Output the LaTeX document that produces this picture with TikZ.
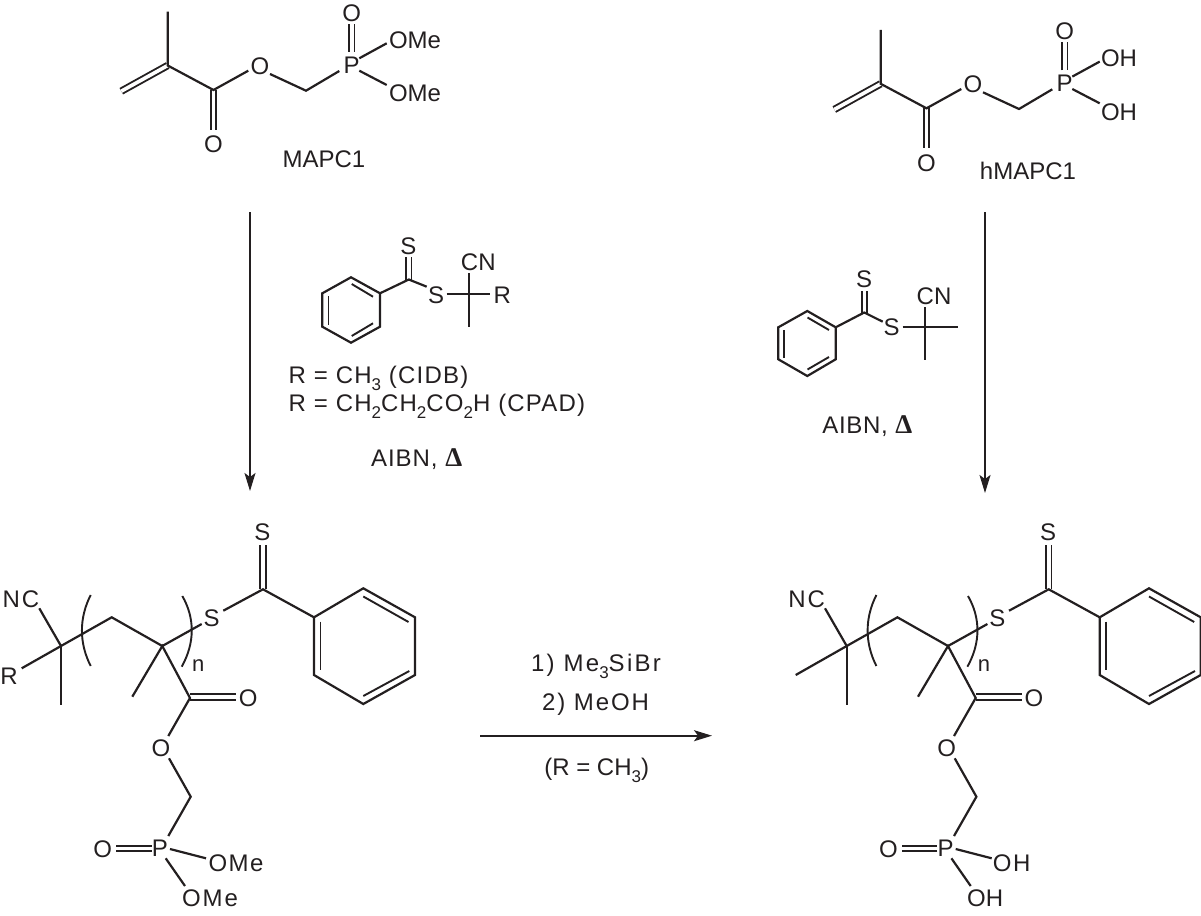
\documentclass[tikz,border=0pt]{standalone}
\usepackage{fontspec}
\setmainfont{Liberation Sans}
\newfontfamily\deltafont{Liberation Serif}[BoldFont={Liberation Serif Bold}]
\usetikzlibrary{arrows.meta}
\definecolor{ink}{HTML}{231F20}
\newcommand{\lsub}[1]{\raisebox{-.3em}{\fontsize{17}{17}\selectfont #1}}
\newcommand{\dlt}{{\deltafont\bfseries\fontsize{27}{28}\selectfont\symbol{"0394}}}
\newcommand{\track}[1]{\addfontfeature{LetterSpace=#1}}
\tikzset{
  atom/.style={inner sep=0pt,text=ink,text height=17pt,text depth=0pt,font=\fontsize{24}{28}\selectfont},
  txt/.style={atom,font=\fontsize{24}{28}\selectfont},
  bond/.style={draw=ink,line width=2.2pt,line cap=butt,line join=miter},
  dbond/.style={draw=ink,line width=1.9pt,double=white,double distance=3.6pt,line cap=butt},
  inner/.style={draw=ink,line width=1.9pt},
  rxn/.style={draw=ink,line width=1.6pt,-{Stealth[length=18pt,width=11pt,inset=4pt]}},
}
% monomer: #1 = label of the two P groups, #2 = x of these labels
\newcommand{\monomer}[2]{
  \coordinate (me) at (167.7,11.7);
  \coordinate (ca) at (167.7,65.5);
  \coordinate (vi) at (121.3,91.2);
  \coordinate (co) at (213.5,90);
  \coordinate (oe) at (248.3,70.7);
  \coordinate (oe2) at (270,74);
  \coordinate (ch) at (306,90.7);
  \coordinate (pl) at (339.3,71);
  \coordinate (pu) at (351.7,52);
  \coordinate (pa) at (359.3,58.3);
  \coordinate (pb) at (359.3,70.7);
  \coordinate (ea) at (386.7,43.3);
  \coordinate (eb) at (386.7,85);
  \coordinate (ou) at (351.7,24);
  \coordinate (od) at (213.5,130);
  \node[atom] (O1) at (260,65.7) {O};
  \node[atom] (P1) at (351.7,65) {P};
  \node[atom] (O2) at (351.7,13) {O};
  \node[atom] (O3) at (213.5,144.3) {O};
  \node[atom] (G1) at (#2,40) {#1};
  \node[atom] (G2) at (#2,93.3) {#1};
  \draw[dbond] (ca) -- (vi);
  \draw[dbond] (co) -- (od);
  \draw[dbond] (pu) -- (ou);
  \draw[bond] (me) -- (ca) -- (co) -- (oe);
  \draw[bond] (oe2) -- (ch) -- (pl);
  \draw[bond] (pa) -- (ea);
  \draw[bond] (pb) -- (eb);
}
% polymer: #1 = R slot, #2/#3 = upper and lower P group nodes
\newcommand{\polymer}[3]{
  \coordinate (sd) at (263,545);
  \coordinate (c) at (263,589.3);
  \coordinate (sb) at (223.3,610.7);
  \coordinate (sc) at (201.7,624);
  \coordinate (q) at (162.3,646);
  \coordinate (m) at (111.7,617.3);
  \coordinate (t) at (61,646);
  \coordinate (tn) at (39.3,608.3);
  \coordinate (tm) at (61,705);
  \coordinate (qm) at (132.3,696.7);
  \coordinate (cc) at (190,698);
  \coordinate (co) at (236,697);
  \coordinate (cc2) at (190,697);
  \coordinate (oa) at (168.3,736);
  \coordinate (ob) at (169,758.3);
  \coordinate (ch) at (190.7,796.7);
  \coordinate (pu) at (168.3,836);
  \coordinate (pd) at (151.7,848.3);
  \coordinate (od) at (116,848.3);
  \coordinate (pa) at (170,849);
  \coordinate (ea) at (206,858.3);
  \coordinate (pb) at (165.7,858.3);
  \coordinate (eb) at (185,886);
  \coordinate (r1) at (314,617.3);
  \coordinate (r2) at (363.3,588.3);
  \coordinate (r3) at (415,617.3);
  \coordinate (r4) at (415,675);
  \coordinate (r5) at (363.3,704);
  \coordinate (r6) at (314,675);
  \node[atom] (S1) at (262.3,532.3) {S};
  \node[atom] (S2) at (211.7,618.3) {S};
  \node[atom] (O1) at (248.3,698.3) {O};
  \node[atom] (O2) at (161,747.7) {O};
  \node[atom] (P1) at (160,848.3) {P};
  \node[atom] (O3) at (102.7,849) {O};
  \node[atom] (NC) at (21,599) {N\kern2pt C};
  #2
  #3
  \node[atom] (nn) at (198.3,663) {\fontsize{22}{24}\selectfont n};
  #1
  \draw[dbond] (c) -- (sd);
  \draw[dbond] (cc2) -- (co);
  \draw[dbond] (pd) -- (od);
  \draw[bond] (r1) -- (r2) -- (r3) -- (r4) -- (r5) -- (r6) -- cycle;
  \draw[inner] (363.3,596.5) -- (408.5,622);
  \draw[inner] (320.5,621.7) -- (320.5,670);
  \draw[inner] (363.3,696) -- (409.3,671);
  \draw[bond] (r1) -- (c) -- (sb);
  \draw[bond] (sc) -- (q) -- (m) -- (t) -- (tn);
  \draw[bond] (t) -- (tm);
  \draw[bond] (qm) -- (q) -- (cc) -- (oa);
  \draw[bond] (ob) -- (ch) -- (pu);
  \draw[bond] (pa) -- (ea);
  \draw[bond] (pb) -- (eb);
  \draw[bond,line width=1.9pt] (90.7,595) .. controls (79,618) and (79,643) .. (90.7,666);
  \draw[bond,line width=1.9pt] (182.3,596) .. controls (195,618) and (195,643) .. (181.7,666.7);
}
\begin{document}
\begin{tikzpicture}[x=1pt,y=-1pt]
\useasboundingbox (0,0) rectangle (1201,915);
% monomers
\begin{scope}[name prefix=ma-]
  \monomer{OMe}{415}
\end{scope}
\node[txt] (mapc) at (324,159) {MAPC1};
\begin{scope}[shift={(713,18.3)},name prefix=mb-]
  \monomer{OH}{406}
\end{scope}
\node[txt] (hmapc) at (1028,170.7) {hMAPC1};
% CTA, left
\begin{scope}[name prefix=ca-]
  \coordinate (sd) at (408.8,256.7);
  \coordinate (c) at (408.8,279.5);
  \coordinate (sb) at (426.7,286.7);
  \coordinate (sc) at (446.7,294);
  \coordinate (rr) at (490,294);
  \coordinate (vt) at (469,273.3);
  \coordinate (vb) at (469,327.3);
  \coordinate (r1) at (351,277.3);
  \coordinate (r2) at (380,293.3);
  \coordinate (r3) at (380,326.7);
  \coordinate (r4) at (351,342.7);
  \coordinate (r5) at (322.3,326.7);
  \coordinate (r6) at (322.3,293.3);
  \node[atom] (S1) at (408.3,245.7) {S};
  \node[atom] (S2) at (436,295) {S};
  \node[atom] (CN) at (478.3,262.3) {CN};
  \node[atom] (RR) at (502.3,295) {R};
  \draw[dbond,double distance=3.4pt] (c) -- (sd);
  \draw[bond] (r1) -- (r2) -- (r3) -- (r4) -- (r5) -- (r6) -- cycle;
  \draw[inner] (351.7,284) -- (373,296.7);
  \draw[inner] (328.5,296) -- (328.5,325);
  \draw[inner] (351.7,336) -- (373,323.3);
  \draw[bond] (r2) -- (c) -- (sb);
  \draw[bond] (sc) -- (rr);
  \draw[bond] (vt) -- (vb);
\end{scope}
\node[txt,anchor=west] (t1) at (288.5,375) {\track{5}R = CH\lsub{3} (CIDB)};
\node[txt,anchor=west] (t2) at (288.5,403) {\track{5}R = CH\lsub{2}CH\lsub{2}CO\lsub{2}H (CPAD)};
\node[txt] (t3) at (416.7,458) {\track{4}AIBN, \dlt};
% CTA, right
\begin{scope}[name prefix=cb-]
  \coordinate (sd) at (864.2,290.7);
  \coordinate (c) at (864.2,312.5);
  \coordinate (sb) at (882.7,321.7);
  \coordinate (sc) at (902.7,327.3);
  \coordinate (rr) at (958.3,327.3);
  \coordinate (vt) at (925,307.3);
  \coordinate (vb) at (925,360);
  \coordinate (r1) at (807.3,311);
  \coordinate (r2) at (835.7,327.3);
  \coordinate (r3) at (835.7,359.3);
  \coordinate (r4) at (807.3,376);
  \coordinate (r5) at (778.3,359.3);
  \coordinate (r6) at (778.3,327.3);
  \node[atom] (S1) at (864,279) {S};
  \node[atom] (S2) at (891.7,327.3) {S};
  \node[atom] (CN) at (934,295.7) {CN};
  \draw[dbond,double distance=3.4pt] (c) -- (sd);
  \draw[bond] (r1) -- (r2) -- (r3) -- (r4) -- (r5) -- (r6) -- cycle;
  \draw[inner] (807.5,317.5) -- (829,330);
  \draw[inner] (784,330) -- (784,358);
  \draw[inner] (807.5,369.5) -- (829,357);
  \draw[bond] (r2) -- (c) -- (sb);
  \draw[bond] (sc) -- (rr);
  \draw[bond] (vt) -- (vb);
\end{scope}
\node[txt] (t4) at (867.3,425) {\track{3}AIBN, \dlt};
% polymers
\begin{scope}[name prefix=pa-]
  \polymer{\node[atom] (RR) at (9,676) {R};\coordinate (ra) at (21.7,668.3);\draw[bond] (ra) -- (t);}%
    {\node[atom] (G1) at (236,863.3) {\track{6}OMe};}%
    {\node[atom] (G2) at (210,898.3) {\track{8}OMe};}
\end{scope}
\begin{scope}[xshift=785.7pt,name prefix=pb-]
  \polymer{\coordinate (ra) at (10,675);\draw[bond] (ra) -- (t);}%
    {\node[atom] (G1) at (226,863.3) {\track{6}OH};}%
    {\node[atom] (G2) at (199.5,898.3) {OH};}
\end{scope}
% arrows and reagents
\coordinate (a1) at (250,212); \coordinate (a2) at (250,491);
\coordinate (b1) at (985,212); \coordinate (b2) at (985,493);
\coordinate (c1) at (480,735.7); \coordinate (c2) at (712,735.7);
\draw[rxn] (a1) -- (a2);
\draw[rxn] (b1) -- (b2);
\draw[rxn] (c1) -- (c2);
\node[txt] (t5) at (596,663) {\track{9.5}1) Me\lsub{3}SiBr};
\node[txt] (t6) at (595.5,701.7) {\track{8}2) MeOH};
\node[txt] (t7) at (596.7,766.7) {(R = CH\lsub{3})};
\end{tikzpicture}
\end{document}
